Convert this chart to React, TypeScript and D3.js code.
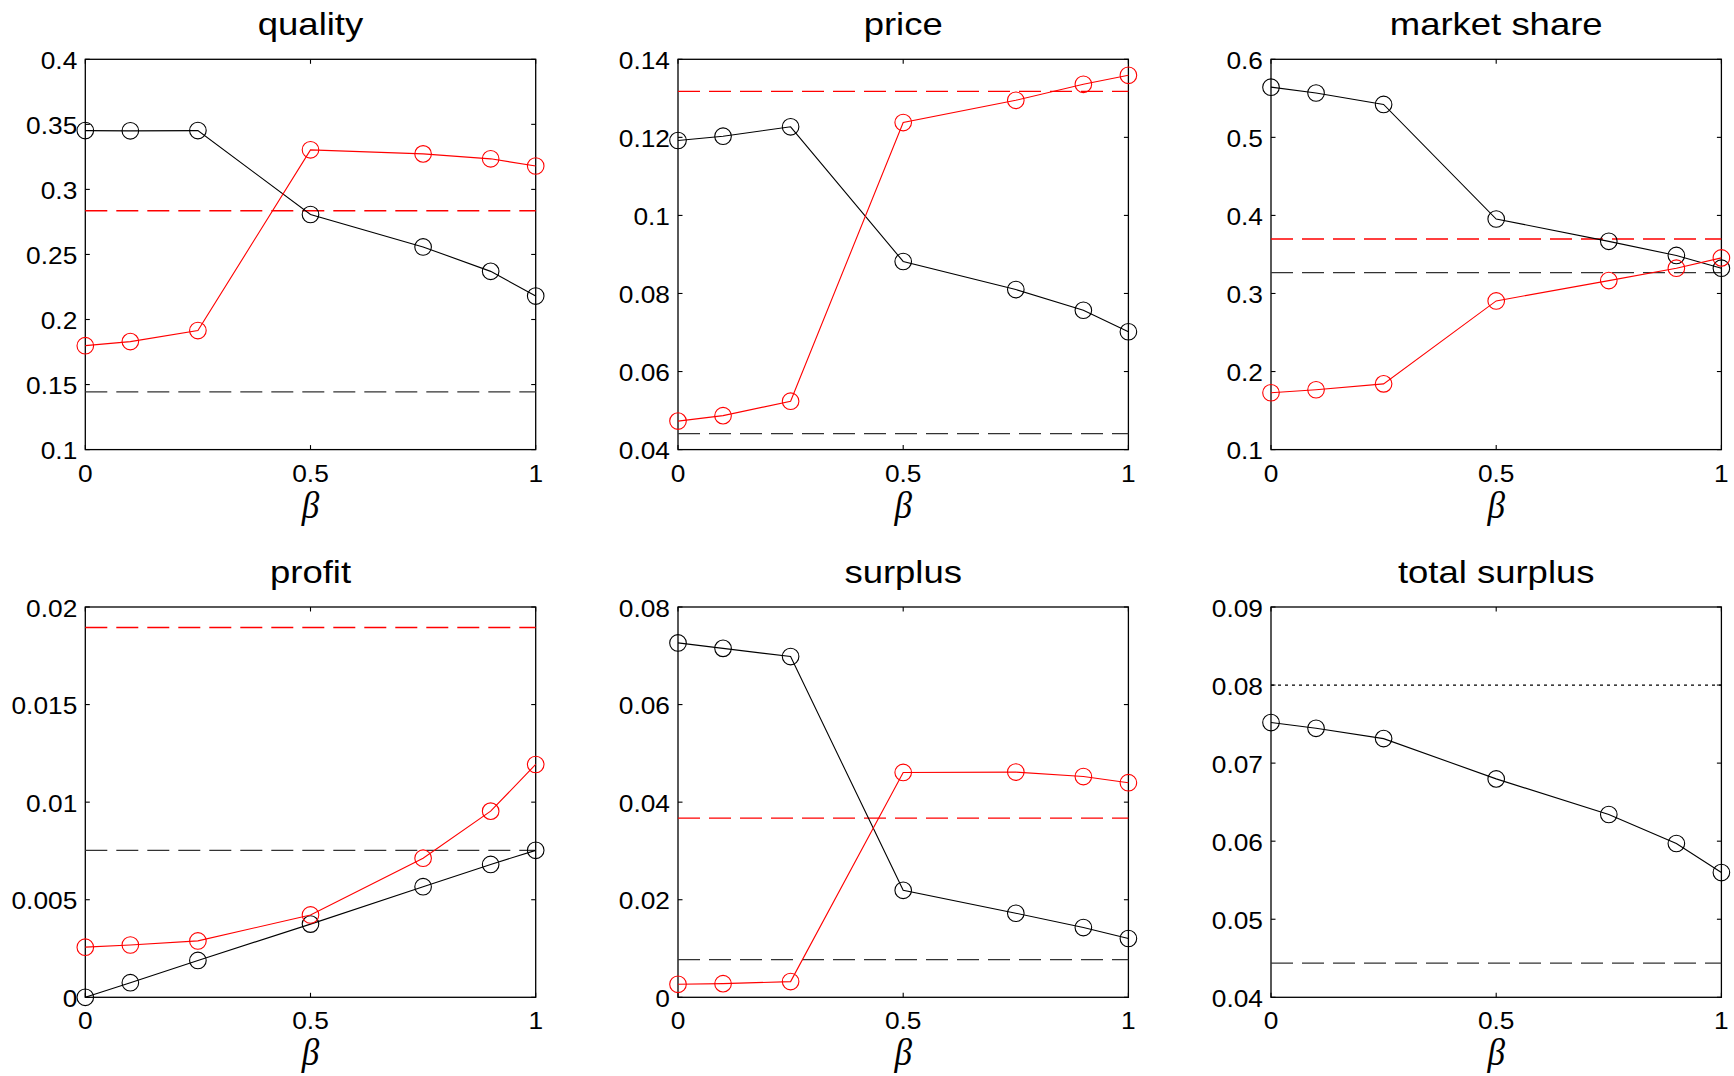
import React from "react";
import * as d3 from "d3";

// ---------- data ----------
const BETA = [0, 0.1, 0.25, 0.5, 0.75, 0.9, 1];
const X_TICKS = [0, 0.5, 1];
const TITLES = ["quality", "price", "market share", "profit", "surplus", "total surplus"];

const QUALITY_TICKS = [0.1, 0.15, 0.2, 0.25, 0.3, 0.35, 0.4];
const QUALITY_BLACK = [0.3452, 0.345, 0.3452, 0.2807, 0.2558, 0.237, 0.218];
const QUALITY_RED = [0.1799, 0.183, 0.1915, 0.3304, 0.3273, 0.3235, 0.318];
const QUALITY_REF_RED = 0.2836;
const QUALITY_REF_BLACK = 0.1444;

const PRICE_TICKS = [0.04, 0.06, 0.08, 0.1, 0.12, 0.14];
const PRICE_BLACK = [0.1192, 0.1203, 0.1227, 0.0882, 0.081, 0.0757, 0.0702];
const PRICE_RED = [0.0473, 0.0487, 0.0524, 0.1238, 0.1295, 0.1336, 0.1359];
const PRICE_REF_RED = 0.1318;
const PRICE_REF_BLACK = 0.0441;

const SHARE_TICKS = [0.1, 0.2, 0.3, 0.4, 0.5, 0.6];
const SHARE_BLACK = [0.5643, 0.5568, 0.5422, 0.3954, 0.3668, 0.3487, 0.3324];
const SHARE_RED = [0.1728, 0.1767, 0.1842, 0.2905, 0.3165, 0.3324, 0.3456];
const SHARE_REF_RED = 0.3698;
const SHARE_REF_BLACK = 0.3266;

const PROFIT_TICKS = [0, 0.005, 0.01, 0.015, 0.02];
const PROFIT_BLACK = [0, 0.00075, 0.00189, 0.00375, 0.00567, 0.00681, 0.00753];
const PROFIT_RED = [0.00257, 0.00268, 0.00289, 0.00422, 0.00713, 0.00954, 0.01193];
const PROFIT_REF_RED = 0.01895;
const PROFIT_REF_BLACK = 0.00753;

const SURPLUS_TICKS = [0, 0.02, 0.04, 0.06, 0.08];
const SURPLUS_BLACK = [0.07264, 0.07152, 0.06984, 0.02193, 0.01723, 0.01429, 0.01205];
const SURPLUS_RED = [0.00266, 0.0028, 0.00322, 0.04609, 0.04616, 0.04525, 0.04399];
const SURPLUS_REF_RED = 0.03671;
const SURPLUS_REF_BLACK = 0.00771;

const TOTAL_TICKS = [0.04, 0.05, 0.06, 0.07, 0.08, 0.09];
const TOTAL_BLACK = [0.0752, 0.07446, 0.07314, 0.06798, 0.06342, 0.0597, 0.05598];
const TOTAL_REF_DOTTED = 0.08;
const TOTAL_REF_DASHED = 0.04438;

// ---------- layout / style ----------
const W = 450.4;
const H = 390.3;
const COL_LEFT = [85.3, 678, 1271];
const ROW_TOP = [59.3, 607];
const RED = "#ff0000";
const BLACK = "#000000";
const DASH_BLACK = "#333333";
const SANS = "'Liberation Sans', Arial, Helvetica, sans-serif";
const SERIF = "'Liberation Serif', 'Times New Roman', serif";
const DASH = "22,9";
const DOT = "3,4";
const TICK_LEN = 4.5;

type Ref = { value: number; color: string; dash: string };
type Series = { values: number[]; color: string };
type Spec = { title: string; domain: [number, number]; ticks: number[]; series: Series[]; refs: Ref[] };

const PANELS: Spec[] = [
  {
    title: TITLES[0], domain: [0.1, 0.4], ticks: QUALITY_TICKS,
    series: [{ values: QUALITY_BLACK, color: BLACK }, { values: QUALITY_RED, color: RED }],
    refs: [{ value: QUALITY_REF_RED, color: RED, dash: DASH }, { value: QUALITY_REF_BLACK, color: DASH_BLACK, dash: DASH }],
  },
  {
    title: TITLES[1], domain: [0.04, 0.14], ticks: PRICE_TICKS,
    series: [{ values: PRICE_BLACK, color: BLACK }, { values: PRICE_RED, color: RED }],
    refs: [{ value: PRICE_REF_RED, color: RED, dash: DASH }, { value: PRICE_REF_BLACK, color: DASH_BLACK, dash: DASH }],
  },
  {
    title: TITLES[2], domain: [0.1, 0.6], ticks: SHARE_TICKS,
    series: [{ values: SHARE_BLACK, color: BLACK }, { values: SHARE_RED, color: RED }],
    refs: [{ value: SHARE_REF_RED, color: RED, dash: DASH }, { value: SHARE_REF_BLACK, color: DASH_BLACK, dash: DASH }],
  },
  {
    title: TITLES[3], domain: [0, 0.02], ticks: PROFIT_TICKS,
    series: [{ values: PROFIT_BLACK, color: BLACK }, { values: PROFIT_RED, color: RED }],
    refs: [{ value: PROFIT_REF_RED, color: RED, dash: DASH }, { value: PROFIT_REF_BLACK, color: DASH_BLACK, dash: DASH }],
  },
  {
    title: TITLES[4], domain: [0, 0.08], ticks: SURPLUS_TICKS,
    series: [{ values: SURPLUS_BLACK, color: BLACK }, { values: SURPLUS_RED, color: RED }],
    refs: [{ value: SURPLUS_REF_RED, color: RED, dash: DASH }, { value: SURPLUS_REF_BLACK, color: DASH_BLACK, dash: DASH }],
  },
  {
    title: TITLES[5], domain: [0.04, 0.09], ticks: TOTAL_TICKS,
    series: [{ values: TOTAL_BLACK, color: BLACK }],
    refs: [{ value: TOTAL_REF_DOTTED, color: BLACK, dash: DOT }, { value: TOTAL_REF_DASHED, color: DASH_BLACK, dash: DASH }],
  },
];

function SText(props: {
  x: number; y: number; size: number; anchor: string; sx: number;
  family?: string; italic?: boolean; children: React.ReactNode;
}) {
  const { x, y, size, anchor, sx, family, italic, children } = props;
  return (
    <g transform={`translate(${x},${y}) scale(${sx},1)`}>
      <text
        x={0}
        y={0}
        fontSize={size}
        textAnchor={anchor}
        fontFamily={family || SANS}
        fontStyle={italic ? "italic" : "normal"}
        fill="#000"
      >
        {children}
      </text>
    </g>
  );
}

function Panel({ spec, left, top }: { spec: Spec; left: number; top: number }) {
  const x = d3.scaleLinear().domain([0, 1]).range([left, left + W]);
  const y = d3.scaleLinear().domain(spec.domain).range([top + H, top]);
  const line = d3
    .line<number>()
    .x((_, i) => x(BETA[i]))
    .y((d) => y(d));
  const bottom = top + H;
  const right = left + W;
  const cx = (left + right) / 2;

  return (
    <g>
      <rect x={left} y={top} width={W} height={H} fill="none" stroke="#000" strokeWidth={1.3} />
      {spec.ticks.map((t) => (
        <g key={"y" + t}>
          <line x1={left} x2={left + TICK_LEN} y1={y(t)} y2={y(t)} stroke="#000" strokeWidth={1.1} />
          <line x1={right} x2={right - TICK_LEN} y1={y(t)} y2={y(t)} stroke="#000" strokeWidth={1.1} />
          <SText x={left - 8} y={y(t) + 9.5} size={23.5} anchor="end" sx={1.12}>
            {String(t)}
          </SText>
        </g>
      ))}
      {X_TICKS.map((t) => (
        <g key={"x" + t}>
          <line x1={x(t)} x2={x(t)} y1={bottom} y2={bottom - TICK_LEN} stroke="#000" strokeWidth={1.1} />
          <line x1={x(t)} x2={x(t)} y1={top} y2={top + TICK_LEN} stroke="#000" strokeWidth={1.1} />
          <SText x={x(t)} y={bottom + 32} size={23.5} anchor="middle" sx={1.12}>
            {String(t)}
          </SText>
        </g>
      ))}
      {spec.refs.map((r, i) => (
        <line
          key={"r" + i}
          x1={left}
          x2={right}
          y1={y(r.value)}
          y2={y(r.value)}
          stroke={r.color}
          strokeWidth={1.3}
          strokeDasharray={r.dash}
        />
      ))}
      {spec.series.map((s, si) => (
        <g key={"s" + si}>
          <path d={line(s.values) || ""} fill="none" stroke={s.color} strokeWidth={1.1} />
          {s.values.map((v, i) => (
            <circle key={i} cx={x(BETA[i])} cy={y(v)} r={8.3} fill="none" stroke={s.color} strokeWidth={1.1} />
          ))}
        </g>
      ))}
      <SText x={cx} y={top - 24.5} size={32} anchor="middle" sx={1.14}>
        {spec.title}
      </SText>
      <SText x={cx} y={bottom + 68} size={37} anchor="middle" sx={0.95} family={SERIF} italic>
        β
      </SText>
    </g>
  );
}

export default function App() {
  return (
    <svg
      width={1734}
      height={1076}
      style={{ position: "absolute", left: 0, top: 0, background: "#fff" }}
    >
      <rect x={0} y={0} width={1734} height={1076} fill="#fff" />
      {PANELS.map((p, i) => (
        <Panel key={i} spec={p} left={COL_LEFT[i % 3]} top={ROW_TOP[Math.floor(i / 3)]} />
      ))}
    </svg>
  );
}
